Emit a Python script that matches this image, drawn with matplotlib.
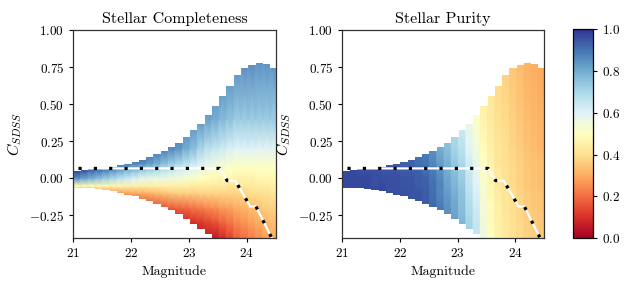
import matplotlib
matplotlib.use('Agg')
import matplotlib.pyplot as plt
from matplotlib.patches import Polygon
import numpy as np

plt.rcParams['font.family'] = 'serif'
plt.rcParams['font.serif'] = ['cmr10']
plt.rcParams['mathtext.fontset'] = 'cm'
plt.rcParams['axes.formatter.use_mathtext'] = True

# magnitude bin edges (28 bins)
mag_edges = np.linspace(21.0, 24.53, 29)

# C_SDSS levels at which each column's colour was read
c_levels = [-0.4, -0.3, -0.2, -0.1, -0.05, 0.0, 0.05, 0.1, 0.2, 0.4, 0.8]

# upper / lower extent of every magnitude column
col_top = [0.049, 0.056, 0.060, 0.065, 0.072, 0.079, 0.088, 0.097, 0.108, 0.123,
           0.144, 0.161, 0.186, 0.213, 0.240, 0.276, 0.326, 0.366, 0.427, 0.487,
           0.555, 0.625, 0.696, 0.745, 0.765, 0.775, 0.772, 0.745]
col_bottom = [-0.066, -0.067, -0.068, -0.070, -0.081, -0.088, -0.099, -0.110, -0.122, -0.137,
              -0.155, -0.170, -0.195, -0.216, -0.240, -0.277, -0.310, -0.344, -0.375, -0.42,
              -0.42, -0.42, -0.42, -0.42, -0.42, -0.42, -0.42, -0.42]

# stellar completeness, one row per magnitude column, one entry per c_level
completeness = [
    [0.02, 0.03, 0.05, 0.22, 0.50, 0.85, 0.97, 0.98, 0.98, 0.98, 0.98],
    [0.02, 0.03, 0.06, 0.23, 0.49, 0.82, 0.94, 0.96, 0.97, 0.98, 0.98],
    [0.02, 0.04, 0.07, 0.24, 0.49, 0.79, 0.91, 0.95, 0.97, 0.97, 0.98],
    [0.02, 0.04, 0.07, 0.25, 0.48, 0.76, 0.89, 0.94, 0.96, 0.97, 0.98],
    [0.02, 0.04, 0.08, 0.26, 0.48, 0.73, 0.86, 0.93, 0.96, 0.97, 0.98],
    [0.03, 0.05, 0.09, 0.26, 0.47, 0.70, 0.83, 0.91, 0.95, 0.97, 0.97],
    [0.03, 0.05, 0.10, 0.27, 0.47, 0.67, 0.80, 0.90, 0.95, 0.96, 0.97],
    [0.03, 0.05, 0.10, 0.28, 0.46, 0.64, 0.77, 0.88, 0.94, 0.96, 0.97],
    [0.03, 0.06, 0.11, 0.29, 0.46, 0.61, 0.75, 0.87, 0.94, 0.96, 0.97],
    [0.03, 0.06, 0.12, 0.30, 0.45, 0.58, 0.72, 0.86, 0.94, 0.96, 0.97],
    [0.03, 0.06, 0.13, 0.31, 0.45, 0.57, 0.70, 0.83, 0.92, 0.95, 0.97],
    [0.03, 0.06, 0.14, 0.33, 0.45, 0.56, 0.68, 0.80, 0.90, 0.94, 0.96],
    [0.03, 0.07, 0.16, 0.34, 0.45, 0.56, 0.66, 0.76, 0.88, 0.93, 0.96],
    [0.03, 0.07, 0.17, 0.36, 0.45, 0.55, 0.64, 0.73, 0.86, 0.91, 0.95],
    [0.03, 0.07, 0.18, 0.37, 0.45, 0.54, 0.62, 0.70, 0.84, 0.90, 0.95],
    [0.04, 0.08, 0.19, 0.37, 0.45, 0.53, 0.60, 0.67, 0.80, 0.88, 0.94],
    [0.04, 0.10, 0.21, 0.37, 0.44, 0.52, 0.58, 0.64, 0.76, 0.86, 0.93],
    [0.05, 0.11, 0.22, 0.38, 0.44, 0.50, 0.55, 0.61, 0.71, 0.84, 0.91],
    [0.06, 0.13, 0.24, 0.38, 0.44, 0.49, 0.53, 0.58, 0.67, 0.82, 0.90],
    [0.06, 0.15, 0.25, 0.38, 0.43, 0.48, 0.52, 0.56, 0.65, 0.80, 0.89],
    [0.09, 0.18, 0.27, 0.38, 0.43, 0.47, 0.51, 0.55, 0.63, 0.77, 0.88],
    [0.13, 0.21, 0.28, 0.38, 0.42, 0.47, 0.50, 0.53, 0.61, 0.75, 0.87],
    [0.18, 0.24, 0.30, 0.38, 0.42, 0.46, 0.49, 0.52, 0.60, 0.73, 0.86],
    [0.20, 0.26, 0.31, 0.39, 0.43, 0.46, 0.49, 0.52, 0.60, 0.73, 0.86],
    [0.23, 0.28, 0.33, 0.40, 0.43, 0.46, 0.49, 0.52, 0.60, 0.73, 0.86],
    [0.25, 0.30, 0.34, 0.40, 0.44, 0.47, 0.50, 0.52, 0.59, 0.73, 0.85],
    [0.28, 0.32, 0.36, 0.41, 0.44, 0.47, 0.50, 0.52, 0.59, 0.73, 0.85],
    [0.30, 0.33, 0.37, 0.42, 0.45, 0.47, 0.50, 0.52, 0.59, 0.73, 0.85],
]

# stellar purity, same layout
purity = [
    [0.97, 0.97, 0.97, 0.97, 0.97, 0.97, 0.97, 0.97, 0.97, 0.97, 0.97],
    [0.97, 0.97, 0.97, 0.97, 0.97, 0.97, 0.97, 0.97, 0.97, 0.97, 0.97],
    [0.97, 0.97, 0.97, 0.97, 0.97, 0.97, 0.96, 0.96, 0.96, 0.96, 0.96],
    [0.97, 0.97, 0.97, 0.97, 0.97, 0.97, 0.96, 0.96, 0.96, 0.96, 0.96],
    [0.97, 0.97, 0.97, 0.97, 0.96, 0.96, 0.96, 0.96, 0.96, 0.96, 0.96],
    [0.97, 0.97, 0.97, 0.97, 0.97, 0.96, 0.95, 0.95, 0.95, 0.95, 0.95],
    [0.96, 0.96, 0.96, 0.96, 0.96, 0.96, 0.95, 0.95, 0.95, 0.95, 0.95],
    [0.96, 0.96, 0.96, 0.96, 0.96, 0.96, 0.95, 0.94, 0.94, 0.94, 0.94],
    [0.96, 0.96, 0.96, 0.96, 0.95, 0.95, 0.94, 0.93, 0.93, 0.93, 0.93],
    [0.95, 0.95, 0.95, 0.95, 0.95, 0.95, 0.94, 0.93, 0.92, 0.92, 0.92],
    [0.95, 0.95, 0.95, 0.95, 0.94, 0.94, 0.93, 0.91, 0.90, 0.90, 0.90],
    [0.94, 0.94, 0.94, 0.94, 0.93, 0.93, 0.91, 0.90, 0.88, 0.88, 0.88],
    [0.92, 0.92, 0.92, 0.91, 0.91, 0.90, 0.89, 0.87, 0.85, 0.85, 0.85],
    [0.89, 0.89, 0.89, 0.87, 0.87, 0.86, 0.85, 0.83, 0.80, 0.80, 0.80],
    [0.86, 0.86, 0.85, 0.83, 0.82, 0.81, 0.80, 0.79, 0.76, 0.75, 0.75],
    [0.82, 0.82, 0.81, 0.79, 0.78, 0.77, 0.76, 0.74, 0.71, 0.69, 0.69],
    [0.78, 0.78, 0.76, 0.75, 0.74, 0.73, 0.72, 0.70, 0.67, 0.63, 0.63],
    [0.72, 0.71, 0.69, 0.67, 0.66, 0.65, 0.64, 0.63, 0.60, 0.56, 0.56],
    [0.66, 0.65, 0.63, 0.61, 0.60, 0.59, 0.58, 0.57, 0.55, 0.51, 0.50],
    [0.56, 0.55, 0.54, 0.53, 0.53, 0.52, 0.51, 0.51, 0.49, 0.46, 0.45],
    [0.50, 0.49, 0.49, 0.48, 0.47, 0.47, 0.47, 0.46, 0.45, 0.43, 0.42],
    [0.46, 0.45, 0.45, 0.44, 0.43, 0.43, 0.43, 0.42, 0.42, 0.40, 0.39],
    [0.43, 0.43, 0.42, 0.42, 0.41, 0.41, 0.41, 0.40, 0.40, 0.39, 0.37],
    [0.41, 0.41, 0.40, 0.40, 0.39, 0.39, 0.39, 0.39, 0.38, 0.37, 0.35],
    [0.39, 0.39, 0.38, 0.38, 0.37, 0.37, 0.37, 0.37, 0.36, 0.35, 0.33],
    [0.37, 0.37, 0.36, 0.36, 0.35, 0.35, 0.35, 0.35, 0.34, 0.33, 0.31],
    [0.36, 0.36, 0.35, 0.35, 0.34, 0.34, 0.34, 0.34, 0.33, 0.32, 0.30],
    [0.35, 0.35, 0.34, 0.34, 0.33, 0.33, 0.33, 0.33, 0.32, 0.31, 0.29],
]

# selection cut (dashed line)
cut_mag = [21.09, 23.53, 23.66, 23.80, 24.06, 24.16, 24.50]
cut_c = [0.067, 0.067, -0.015, -0.015, -0.19, -0.19, -0.455]


def draw_panel(ax, values, title):
    # every column gets two x vertices so colour is constant across a column
    xv = np.column_stack([mag_edges[:-1], mag_edges[1:]]).ravel()
    X, Y = np.meshgrid(xv, c_levels)
    C = np.repeat(np.array(values).T, 2, axis=1)
    mesh = ax.pcolormesh(X, Y, C, shading='gouraud', cmap='RdYlBu', vmin=0, vmax=1)

    verts = []
    for k in range(len(col_top)):
        verts.append((mag_edges[k], col_top[k]))
        verts.append((mag_edges[k + 1], col_top[k]))
    for k in reversed(range(len(col_bottom))):
        verts.append((mag_edges[k + 1], col_bottom[k]))
        verts.append((mag_edges[k], col_bottom[k]))
    outline = Polygon(verts, closed=True, transform=ax.transData, fc='none', ec='none')
    mesh.set_clip_path(outline)

    ax.plot(cut_mag, cut_c, color='white', lw=1.6, zorder=3)
    ax.plot(cut_mag, cut_c, color='black', lw=2.3, dashes=(1.0, 3.8), zorder=4)

    ax.set_xlim(21, 24.5)
    ax.set_ylim(-0.4, 1.0)
    ax.set_xticks([21, 22, 23, 24])
    ax.set_yticks([-0.25, 0.0, 0.25, 0.5, 0.75, 1.0])
    ax.set_title(title, fontsize=11.5, pad=5)
    ax.set_xlabel('Magnitude', fontsize=10)
    ax.set_ylabel(r'$C_{SDSS}$', fontsize=11.5)
    ax.tick_params(labelsize=9.5, length=3, width=0.8, direction='out')
    for s in ax.spines.values():
        s.set_linewidth(0.9)
        s.set_color('#333333')
    return mesh


fig = plt.figure(figsize=(6.3, 2.88), dpi=100)
ax1 = fig.add_axes([0.1163, 0.1747, 0.3213, 0.7211])
ax2 = fig.add_axes([0.5433, 0.1747, 0.3202, 0.7211])
cax = fig.add_axes([0.909, 0.1730, 0.032, 0.7250])

m1 = draw_panel(ax1, completeness, 'Stellar Completeness')
m2 = draw_panel(ax2, purity, 'Stellar Purity')

cb = fig.colorbar(m1, cax=cax)
cb.set_ticks([0.0, 0.2, 0.4, 0.6, 0.8, 1.0])
cb.ax.tick_params(labelsize=9.5, length=3, width=0.8)
cb.outline.set_linewidth(0.9)

fig.savefig('out.png', dpi=100)
plt.close(fig)
